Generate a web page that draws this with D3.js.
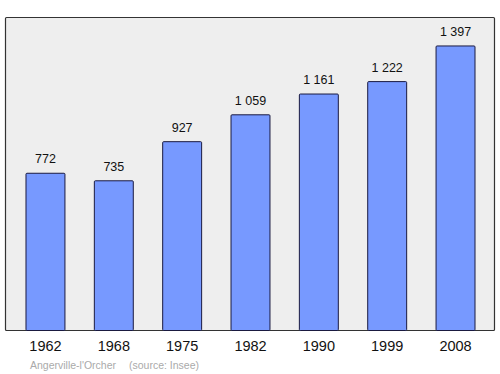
<!DOCTYPE html>
<html>
<head>
<meta charset="utf-8">
<script src="https://cdn.jsdelivr.net/npm/d3@7"></script>
<style>
  body { margin: 0; background: #fff; }
  svg { display: block; font-family: "Liberation Sans", Arial, sans-serif; }
</style>
</head>
<body>
<svg id="chart" width="500" height="374"></svg>
<script>
const years = ["1962", "1968", "1975", "1982", "1990", "1999", "2008"];
const population = [772, 735, 927, 1059, 1161, 1222, 1397];
const commune = "Angerville-l'Orcher";
const source = "(source: Insee)";

const svg = d3.select("#chart");
const plot = { left: 5.5, top: 17.5, right: 494.5, bottom: 330.5 };

const x = d3
  .scaleBand()
  .domain(years)
  .range([11.3, 489.7])
  .paddingInner(0.43)
  .paddingOuter(0.215);

const y = d3
  .scaleLinear()
  .domain([0, 1.1 * d3.max(population)])
  .range([plot.bottom, plot.top]);

const fmt = (v) => d3.format(",")(v).replace(",", " ");

svg
  .append("rect")
  .attr("x", plot.left)
  .attr("y", plot.top)
  .attr("width", plot.right - plot.left)
  .attr("height", plot.bottom - plot.top)
  .attr("fill", "#eeeeee")
  .attr("stroke", "#333")
  .attr("stroke-width", 1.2)
  .attr("rx", 1);

const data = years.map((yr, i) => ({ year: yr, value: population[i] }));

svg
  .append("g")
  .selectAll("rect")
  .data(data)
  .join("rect")
  .attr("x", (d) => x(d.year))
  .attr("y", (d) => y(d.value))
  .attr("width", x.bandwidth())
  .attr("height", (d) => plot.bottom - y(d.value))
  .attr("fill", "#7799ff")
  .attr("stroke", "#1a1a40")
  .attr("stroke-width", 1)
  .attr("rx", 1);

svg
  .append("g")
  .selectAll("text")
  .data(data)
  .join("text")
  .attr("x", (d) => x(d.year) + x.bandwidth() / 2)
  .attr("y", (d) => y(d.value) - 10)
  .attr("text-anchor", "middle")
  .attr("font-size", 12.5)
  .attr("fill", "#111")
  .text((d) => fmt(d.value));

// x axis labels
const xAxis = (g) =>
  g
    .attr("transform", `translate(0,${plot.bottom})`)
    .call(d3.axisBottom(x).tickSize(0).tickPadding(10))
    .call((g) => g.select(".domain").remove())
    .call((g) =>
      g.selectAll("text").attr("font-size", 14.5).attr("fill", "#111")
        .attr("font-family", "Liberation Sans, Arial, sans-serif")
    );
svg.append("g").call(xAxis);

svg
  .append("text")
  .attr("x", 30)
  .attr("y", 369)
  .attr("font-size", 10.5)
  .attr("fill", "#aaaaaa")
  .text(commune);

svg
  .append("text")
  .attr("x", 129)
  .attr("y", 369)
  .attr("font-size", 10.5)
  .attr("fill", "#aaaaaa")
  .text(source);
</script>
</body>
</html>
